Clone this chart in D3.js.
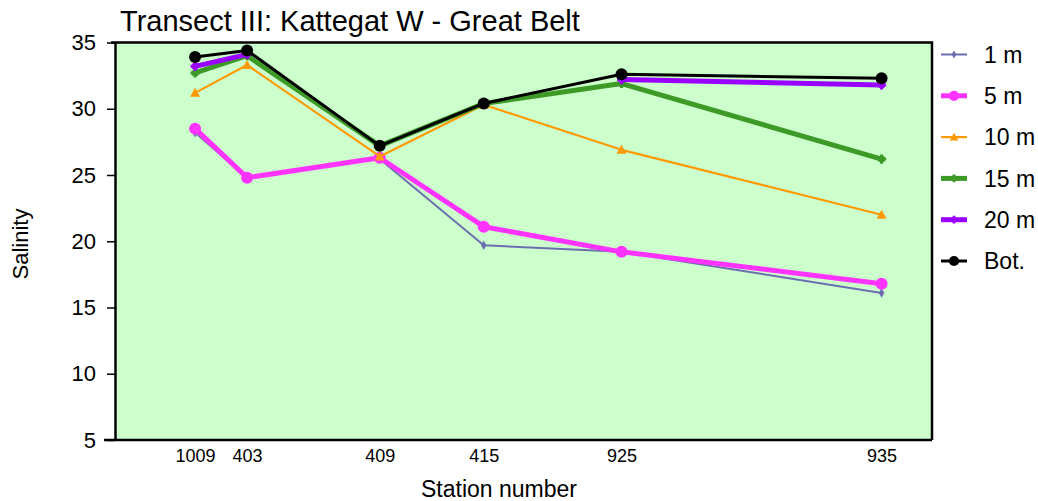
<!DOCTYPE html>
<html>
<head>
<meta charset="utf-8">
<script src="https://cdn.jsdelivr.net/npm/d3@7"></script>
<style>
  body { margin: 0; background: #fff; }
  svg { display: block; font-family: "Liberation Sans", Arial, sans-serif; }
</style>
</head>
<body>
<svg id="chart" width="1038" height="501"></svg>
<script>
// Stations along the transect and their relative positions (distance units)
const stations = ["1009", "403", "409", "415", "925", "935"];
const stationDist = [0, 20, 71, 111, 164, 264];

// Salinity per depth level at each station (null = no sample at that depth)
const sal1m  = [28.2, 24.8, 26.2, 19.7, 19.2, 16.1];
const sal5m  = [28.5, 24.8, 26.3, 21.1, 19.2, 16.8];
const sal10m = [31.2, 33.3, 26.4, 30.3, 26.9, 22.0];
const sal15m = [32.7, 34.0, 27.2, 30.4, 31.9, 26.2];
const sal20m = [33.2, 34.1, null, null, 32.2, 31.8];
const salBot = [33.9, 34.4, 27.2, 30.4, 32.6, 32.3];

const yTicks = [5, 10, 15, 20, 25, 30, 35];

const series = [
  { name: "1 m",  values: sal1m,  color: "#6b6fb0", width: 2,   marker: "diamond",  size: 3.5 },
  { name: "5 m",  values: sal5m,  color: "#ff33ff", width: 5,   marker: "circle",   size: 6 },
  { name: "10 m", values: sal10m, color: "#ff9900", width: 2.2, marker: "triangle", size: 5 },
  { name: "15 m", values: sal15m, color: "#3d9a27", width: 5,   marker: "blob",     size: 4.2 },
  { name: "20 m", values: sal20m, color: "#9900ff", width: 5,   marker: "blob",     size: 4.2 },
  { name: "Bot.", values: salBot, color: "#000000", width: 3,   marker: "circle",   size: 6 }
];

const svg = d3.select("#chart");
const plot = { left: 115, right: 932, top: 42.5, bottom: 440 };

const x = d3.scaleLinear().domain([-30.8, 283.4]).range([plot.left, plot.right]);
const y = d3.scaleLinear().domain([5, 35]).range([plot.bottom, plot.top]);

// plot background
svg.append("rect")
  .attr("x", plot.left).attr("y", plot.top)
  .attr("width", plot.right - plot.left).attr("height", plot.bottom - plot.top)
  .attr("fill", "#ccffcc");

// frame: top and right edges
svg.append("path")
  .attr("d", `M${plot.left - 4},${plot.top} H${plot.right} V${plot.bottom}`)
  .attr("fill", "none").attr("stroke", "#000").attr("stroke-width", 2.5);

// y axis
const yAxis = svg.append("g")
  .attr("transform", `translate(${plot.left},0)`)
  .call(d3.axisLeft(y).tickValues(yTicks).tickSize(8).tickPadding(11).tickSizeOuter(0));
yAxis.select(".domain").attr("stroke-width", 2.5);
yAxis.selectAll(".tick line").attr("stroke-width", 1.5);
yAxis.selectAll("text").attr("font-size", 22).attr("font-family", "Liberation Sans, Arial, sans-serif").attr("fill", "#000");

// x axis
const xAxis = svg.append("g")
  .attr("transform", `translate(0,${plot.bottom})`)
  .call(d3.axisBottom(x).tickValues(stationDist).tickFormat((d, i) => stations[i]).tickSize(0).tickPadding(9).tickSizeOuter(0));
xAxis.select(".domain").attr("stroke-width", 2.5).attr("d", `M${plot.left - 11},0H${plot.right}`);
xAxis.selectAll("text").attr("font-size", 18).attr("font-family", "Liberation Sans, Arial, sans-serif").attr("fill", "#000");

// title and axis titles
svg.append("text")
  .attr("x", 120).attr("y", 31)
  .attr("font-size", 29).attr("fill", "#000")
  .text("Transect III: Kattegat W - Great Belt");

svg.append("text")
  .attr("x", 499).attr("y", 497)
  .attr("text-anchor", "middle").attr("font-size", 23).attr("fill", "#000")
  .text("Station number");

svg.append("text")
  .attr("transform", "translate(28,244) rotate(-90)")
  .attr("text-anchor", "middle").attr("font-size", 22).attr("fill", "#000")
  .text("Salinity");

// marker shapes
function markerPath(type, s) {
  if (type === "diamond") return d3.symbol(d3.symbolDiamond, s * s * 2.2)();
  if (type === "triangle") return `M0,${-s}L${s},${s * 0.8}L${-s},${s * 0.8}Z`;
  return null;
}
function drawMarker(g, type, size, color) {
  if (type === "circle") {
    g.append("circle").attr("r", size).attr("fill", color);
  } else if (type === "blob") {
    g.append("circle").attr("r", size * 0.85).attr("fill", color);
    g.append("path").attr("d", d3.symbol(d3.symbolCross, size * size * 2.6)()).attr("fill", color);
  } else {
    g.append("path").attr("d", markerPath(type, size)).attr("fill", color);
  }
}

const line = d3.line()
  .defined(d => d !== null)
  .x((d, i) => x(stationDist[i]))
  .y(d => y(d));

const marks = svg.append("g");
series.forEach(s => {
  const g = marks.append("g");
  g.append("path")
    .attr("d", line(s.values))
    .attr("fill", "none")
    .attr("stroke", s.color)
    .attr("stroke-width", s.width)
    .attr("stroke-linejoin", "round");
  s.values.forEach((v, i) => {
    if (v === null) return;
    const m = g.append("g").attr("transform", `translate(${x(stationDist[i])},${y(v)})`);
    drawMarker(m, s.marker, s.size, s.color);
  });
});

// legend
const legend = svg.append("g");
const legY0 = 54.5, legStep = 41.3;
series.forEach((s, i) => {
  const ly = legY0 + i * legStep;
  const g = legend.append("g").attr("transform", `translate(0,${ly})`);
  g.append("line").attr("x1", 941).attr("x2", 967)
    .attr("stroke", s.color).attr("stroke-width", s.width);
  const m = g.append("g").attr("transform", "translate(954,0)");
  drawMarker(m, s.marker, s.size * 0.85, s.color);
  g.append("text").attr("x", 984).attr("y", 0).attr("dy", "0.36em")
    .attr("font-size", 23).attr("fill", "#000").text(s.name);
});
</script>
</body>
</html>
